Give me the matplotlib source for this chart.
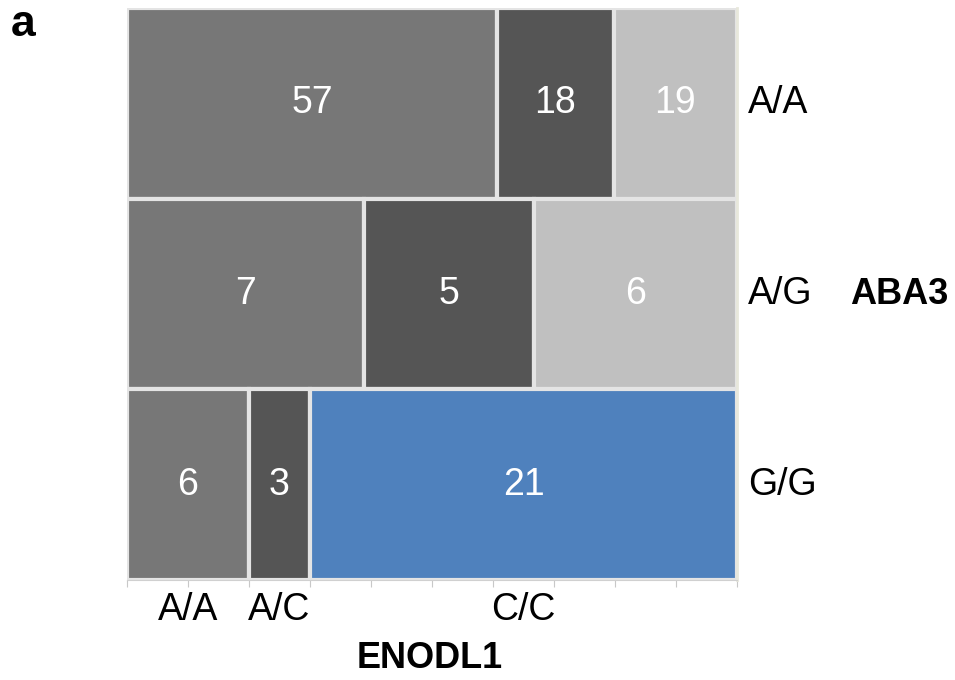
import matplotlib.pyplot as plt
from matplotlib.patches import Rectangle

plt.rcParams['font.family'] = ['Liberation Sans', 'DejaVu Sans']

# ABA3 genotype rows (top to bottom) and ENODL1 genotype columns
aba3_levels = ["A/A", "A/G", "G/G"]
enodl1_levels = ["A/A", "A/C", "C/C"]
counts = {
    "A/A": [57, 18, 19],
    "A/G": [7, 5, 6],
    "G/G": [6, 3, 21],
}
tile_colors = {
    "A/A": ["#777777", "#555555", "#c0c0c0"],
    "A/G": ["#777777", "#555555", "#c0c0c0"],
    "G/G": ["#777777", "#555555", "#4f81bd"],
}

fig = plt.figure(figsize=(9.55, 6.8), dpi=100)
ax = fig.add_axes([127 / 955, 1 - 580 / 680, 610 / 955, 572 / 680])
ax.set_xlim(0, 1)
ax.set_ylim(0, 1)

n_rows = len(aba3_levels)
row_h = 1.0 / n_rows
row_centers = []
bottom_row_centers = []
for i, row in enumerate(aba3_levels):
    y0 = 1 - (i + 1) * row_h
    row_centers.append(y0 + row_h / 2)
    vals = counts[row]
    total = sum(vals)
    x0 = 0.0
    for j, v in enumerate(vals):
        w = v / total
        ax.add_patch(Rectangle((x0, y0), w, row_h, facecolor=tile_colors[row][j],
                               edgecolor="#e4e4e4", linewidth=3))
        ax.text(x0 + w / 2, y0 + row_h / 2, str(v), color="white", fontsize=27,
                ha="center", va="center")
        if i == n_rows - 1:
            bottom_row_centers.append(x0 + w / 2)
        x0 += w

# axes styling
for s in ["top", "left"]:
    ax.spines[s].set_visible(False)
ax.spines["bottom"].set_color("#d0d0d0")
ax.spines["right"].set_color("#e8e8dc")
ax.spines["right"].set_linewidth(2)

ax.set_xticks([k / 10 for k in range(11)])
ax.set_xticklabels([])
ax.tick_params(axis="x", length=5, color="#c8c8c8", direction="out")
ax.set_yticks([])

for lab, xc in zip(enodl1_levels, bottom_row_centers):
    ax.text(xc, -0.052, lab, ha="center", va="center", fontsize=27,
            transform=ax.transAxes)
for lab, yc in zip(aba3_levels, row_centers):
    ax.text(1.018, yc, lab, ha="left", va="center", fontsize=27,
            transform=ax.transAxes)

ax.text(1.185, row_centers[1], "ABA3", ha="left", va="center", fontsize=26,
        fontweight="bold", transform=ax.transAxes)
fig.text(430 / 955, 1 - 658 / 680, "ENODL1", ha="center", va="center",
         fontsize=26, fontweight="bold")
fig.text(11 / 955, 1 - 24 / 680, "a", ha="left", va="center", fontsize=32,
         fontweight="bold")

fig.savefig("out.png", dpi=100)
